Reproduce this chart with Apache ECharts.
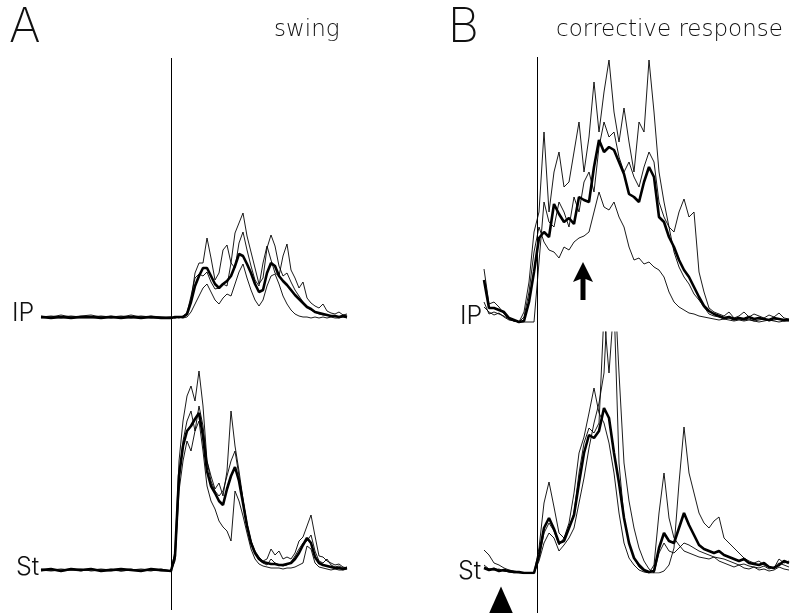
<!DOCTYPE html>
<html>
<head>
<meta charset="utf-8">
<script src="https://cdn.jsdelivr.net/npm/echarts@6/dist/echarts.min.js"></script>
<style>
  html, body { margin: 0; padding: 0; background: #fff; }
  #chart { width: 792px; height: 613px; }
</style>
</head>
<body>
<div id="chart"></div>
<script>
// time axis, 0 = perturbation onset
var timeA = [-130,-120,-110,-100,-90,-80,-70,-60,-50,-40,-30,-20,-10,
  0,4,8,12,16,20,24,28,32,36,40,44,48,52,56,60,64,68,72,76,80,84,88,92,96,100,
  104,108,112,116,120,124,128,132,136,140,144,148,152,156,160,164,168,172,176];
var timeB = [-53,-48,-43,-38,-33,-28,-23,-18,-13,-8,-3,2,7,12,17,22,27,32,37,42,
  47,52,57,62,67,72,77,82,87,92,97,102,107,112,117,122,127,132,137,142,147,152,
  157,162,167,172,177,182,187,192,197,202,207,212,217,222,227,232,237,242,247,252];

// A: swing, IP
var ipA_mean = [1,0,1,0,1,1,0,1,0,1,0,1,0,
  0,1,1,1,4,16,32,42,50,50,42,34,30,34,37,42,52,64,62,54,45,34,26,28,45,55,52,42,37,33,28,23,19,15,11,9,6,5,4,3,2,2,1,2,1];
var ipA_1 = [2,1,3,1,2,3,1,2,1,3,1,2,1,
  1,0,1,1,3,18,45,55,55,80,60,38,45,68,73,55,50,75,86,68,52,38,32,55,72,58,45,42,62,74,48,40,30,36,20,15,12,10,14,7,5,4,6,3,4];
var ipA_2 = [1,2,1,2,1,1,2,1,2,1,2,1,1,
  0,1,0,2,5,22,40,44,42,46,36,29,30,34,32,55,85,95,105,82,66,50,34,40,70,83,72,52,42,45,36,28,22,16,11,8,6,4,3,3,2,2,1,3,2];
var ipA_3 = [0,1,0,1,0,0,1,0,1,0,1,0,0,
  1,0,1,0,1,6,14,22,30,34,26,18,14,20,24,22,34,46,54,40,28,18,12,18,32,42,44,34,22,14,8,4,2,1,1,0,1,0,1,0,1,0,0,1,0];

// A: swing, St
var stA_mean = [1,2,0,2,1,2,0,1,2,1,0,2,1,
  0,15,95,125,140,145,152,158,135,100,85,78,70,66,82,95,104,90,68,45,28,18,12,9,8,7,7,6,6,7,8,12,18,26,33,28,14,8,6,5,4,3,3,2,3];
var stA_1 = [2,1,0,1,2,0,1,2,0,1,2,1,0,
  0,20,110,150,175,185,170,200,165,110,95,82,88,75,100,160,125,100,72,45,30,20,14,10,12,22,16,20,12,14,12,18,30,34,45,56,35,15,14,10,8,6,7,4,3];
var stA_2 = [0,1,2,1,0,2,1,0,1,2,0,1,1,
  0,10,80,110,130,120,140,150,120,85,70,62,50,44,40,30,80,70,55,38,22,12,7,5,4,3,3,3,2,3,3,4,6,8,25,22,8,4,3,2,1,2,1,1,2];
var stA_3 = [1,0,1,2,1,1,2,1,0,1,1,0,2,
  0,12,90,130,150,160,140,165,145,110,90,80,75,80,95,110,120,95,70,48,30,18,11,8,6,12,8,6,5,6,9,15,22,28,30,36,20,10,8,12,6,4,5,3,4];

// B: corrective response, IP
var ipB_mean = [42,14,14,12,10,4,2,0,1,20,50,84,90,85,118,108,100,104,98,125,122,120,155,182,170,175,172,160,148,128,125,120,140,155,145,105,100,85,75,62,52,45,35,25,16,11,8,6,4,5,3,4,3,5,3,4,3,2,4,3,2,2];
var ipB_1 = [53,18,20,15,8,3,1,0,10,40,90,110,190,110,150,170,135,140,170,200,150,185,240,190,230,262,210,180,214,180,150,200,190,262,210,150,120,95,90,110,123,105,110,50,30,14,10,8,6,10,4,6,10,5,8,6,4,7,5,9,4,3];
var ipB_2 = [20,8,10,8,6,3,1,0,0,0,0,60,120,100,95,120,110,95,125,110,140,150,130,175,200,185,190,165,150,160,145,135,155,170,160,120,105,95,70,55,45,38,28,22,15,8,6,5,3,4,2,3,2,3,1,2,3,1,2,3,1,2];
var ipB_3 = [15,10,7,9,5,2,1,0,5,30,70,95,80,72,70,64,75,72,80,84,86,90,110,130,115,112,120,105,95,75,62,64,58,60,55,52,45,30,20,15,12,9,8,6,5,4,3,2,3,2,1,2,1,2,1,0,1,2,1,0,1,1];

// B: corrective response, St
var stB_mean = [5,3,4,2,3,2,1,1,0,0,0,18,45,55,44,30,32,45,58,90,120,138,135,142,165,155,120,90,55,30,15,8,3,1,2,25,40,32,30,45,60,48,38,28,24,22,20,22,18,16,14,12,14,10,9,8,10,6,5,8,12,10];
var stB_1 = [23,18,10,8,5,3,2,1,0,0,0,25,70,91,66,40,35,50,80,120,136,160,185,160,150,130,100,60,30,15,8,3,1,0,8,60,100,55,35,28,22,20,18,16,15,14,16,12,10,8,6,8,5,4,6,3,4,2,3,6,4,3];
var stB_2 = [8,4,5,3,2,1,0,0,0,0,0,12,30,40,35,22,28,35,45,70,95,125,150,170,200,300,300,200,110,72,45,25,12,4,0,0,2,8,25,90,146,100,80,60,50,45,52,56,35,30,25,20,15,12,10,12,8,6,5,14,10,12];
var stB_3 = [6,4,3,4,2,1,1,0,0,0,0,15,40,50,42,28,35,45,60,100,130,145,140,150,260,200,270,110,55,30,15,6,2,0,0,20,30,22,20,25,30,28,25,22,20,18,16,15,14,12,10,8,9,7,6,5,7,4,6,10,8,6];

var myChart = echarts.init(document.getElementById('chart'));

function trace(t, v, grid, thick, clip) {
  return {
    type: 'line',
    xAxisIndex: grid,
    yAxisIndex: grid,
    data: t.map(function (x, i) { return [x, v[i]]; }),
    symbol: 'none',
    clip: clip,
    z: thick ? 3 : 2,
    lineStyle: { color: '#000', width: thick ? 2.6 : 0.9 }
  };
}

function onsetLine(grid) {
  return {
    type: 'line',
    xAxisIndex: grid,
    yAxisIndex: grid,
    data: [],
    markLine: {
      symbol: 'none',
      silent: true,
      animation: false,
      label: { show: false },
      lineStyle: { color: '#000', width: 1, type: 'solid' },
      data: [{ xAxis: 0 }]
    }
  };
}

var font = 'Inter';
var textFont = 'DejaVu Sans';
var labelStyle = { fontFamily: font, fontSize: 25, fontWeight: 300, color: '#111' };

var series = [
  trace(timeA, ipA_1, 0, false, false),
  trace(timeA, ipA_2, 0, false, false),
  trace(timeA, ipA_3, 0, false, false),
  trace(timeA, ipA_mean, 0, true, false),
  trace(timeA, stA_1, 1, false, false),
  trace(timeA, stA_2, 1, false, false),
  trace(timeA, stA_3, 1, false, false),
  trace(timeA, stA_mean, 1, true, false),
  trace(timeB, ipB_1, 2, false, false),
  trace(timeB, ipB_2, 2, false, false),
  trace(timeB, ipB_3, 2, false, false),
  trace(timeB, ipB_mean, 2, true, false),
  trace(timeB, stB_1, 3, false, true),
  trace(timeB, stB_2, 3, false, true),
  trace(timeB, stB_3, 3, false, true),
  trace(timeB, stB_mean, 3, true, true),
  onsetLine(4),
  onsetLine(5)
];

// arrow on IP, stimulus marker below the B panel
series[11].markPoint = {
  silent: true,
  animation: false,
  label: { show: false },
  itemStyle: { color: '#000' },
  data: [{
    coord: [46, 41],
    symbol: 'path://M10,0 L20,20 L12.5,17 L12.5,38 L7.5,38 L7.5,17 L0,20 Z',
    symbolSize: [20, 38]
  }]
};
series[17].markPoint = {
  silent: true,
  animation: false,
  label: { show: false },
  itemStyle: { color: '#000' },
  data: [{ coord: [-36, 13], symbol: 'triangle', symbolSize: [24, 27] }]
};

myChart.setOption({
  animation: false,
  backgroundColor: '#fff',
  title: [
    { text: 'A', left: 4, top: -1, textStyle: { fontFamily: font, fontSize: 48, fontWeight: 200, color: '#111' } },
    { text: 'swing', left: 269, top: 14, textStyle: { fontFamily: textFont, fontSize: 23, fontWeight: 200, color: '#111' } },
    { text: 'B', left: 443, top: -1, textStyle: { fontFamily: font, fontSize: 48, fontWeight: 200, color: '#111' } },
    { text: 'corrective response', left: 551, top: 14, textStyle: { fontFamily: textFont, fontSize: 23, fontWeight: 200, color: '#111' } },
    { text: 'IP', left: 7, top: 296, textStyle: labelStyle },
    { text: 'St', left: 11, top: 550, textStyle: labelStyle },
    { text: 'IP', left: 455, top: 299, textStyle: labelStyle },
    { text: 'St', left: 453, top: 554, textStyle: labelStyle }
  ],
  grid: [
    { left: 40, top: 58, width: 308, height: 260 },
    { left: 40, top: 351, width: 308, height: 220 },
    { left: 484, top: 57, width: 308, height: 265 },
    { left: 484, top: 332, width: 308, height: 241 },
    { left: 40, top: 58, width: 308, height: 552 },
    { left: 484, top: 57, width: 308, height: 556 }
  ],
  xAxis: [
    { type: 'value', gridIndex: 0, min: -131, max: 177, show: false },
    { type: 'value', gridIndex: 1, min: -131, max: 177, show: false },
    { type: 'value', gridIndex: 2, min: -53, max: 255, show: false },
    { type: 'value', gridIndex: 3, min: -53, max: 255, show: false },
    { type: 'value', gridIndex: 4, min: -131, max: 177, show: false },
    { type: 'value', gridIndex: 5, min: -53, max: 255, show: false }
  ],
  yAxis: [
    { type: 'value', gridIndex: 0, min: 0, max: 260, show: false },
    { type: 'value', gridIndex: 1, min: 0, max: 220, show: false },
    { type: 'value', gridIndex: 2, min: 0, max: 265, show: false },
    { type: 'value', gridIndex: 3, min: 0, max: 241, show: false },
    { type: 'value', gridIndex: 4, min: 0, max: 552, show: false },
    { type: 'value', gridIndex: 5, min: 0, max: 556, show: false }
  ],
  series: series
});
</script>
</body>
</html>
